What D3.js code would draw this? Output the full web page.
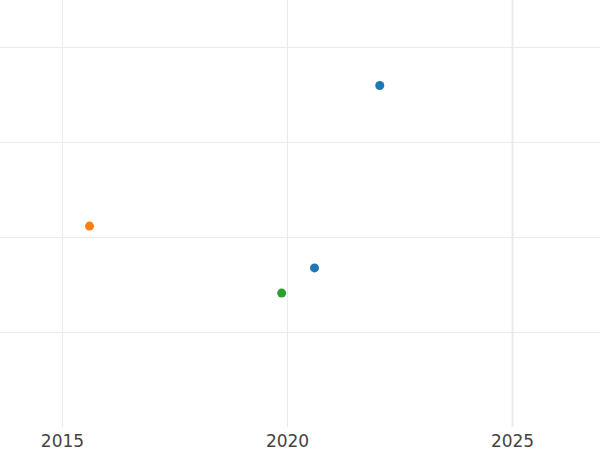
<!DOCTYPE html>
<html><head><meta charset="utf-8">
<script src="https://cdn.jsdelivr.net/npm/d3@7"></script>
<style>html,body{margin:0;padding:0;background:#fff;}svg{display:block;}</style>
</head><body>
<script>
const xValues = [2022.05, 2015.6, 2020.6, 2019.87];
const yValues = [3.6, 2.12, 1.68, 1.415];
const colors = ["#1f77b4", "#ff7f0e", "#1f77b4", "#2ca02c"];
const xTicks = [2015, 2020, 2025];
const yTicks = [1, 2, 3, 4];

const W = 600, H = 450;
const svg = d3.select("body").append("svg").attr("width", W).attr("height", H);
const x = d3.scaleLinear().domain([2013.611, 2026.944]).range([0, 600]);
const y = d3.scaleLinear().domain([0, 4.5]).range([427.5, 0]);

svg.append("g").selectAll("line").data(yTicks).join("line")
  .attr("x1", 0).attr("x2", W).attr("y1", d => y(d)).attr("y2", d => y(d))
  .attr("stroke", "#ebebeb").attr("stroke-width", 1);
svg.append("g").selectAll("line").data(xTicks).join("line")
  .attr("x1", d => x(d)).attr("x2", d => x(d)).attr("y1", 0).attr("y2", 427)
  .attr("stroke", "#ebebeb").attr("stroke-width", d => d === 2025 ? 2 : 1);

svg.append("g").selectAll("text").data(xTicks).join("text")
  .attr("x", d => x(d)).attr("y", 447).attr("text-anchor", "middle")
  .attr("font-family", "DejaVu Sans").attr("font-size", 17).attr("fill", "#444")
  .text(d => d);

svg.append("g").selectAll("circle").data(xValues).join("circle")
  .attr("cx", d => x(d)).attr("cy", (d, i) => y(yValues[i])).attr("r", 4.5)
  .attr("fill", (d, i) => colors[i]);
</script>
</body></html>
